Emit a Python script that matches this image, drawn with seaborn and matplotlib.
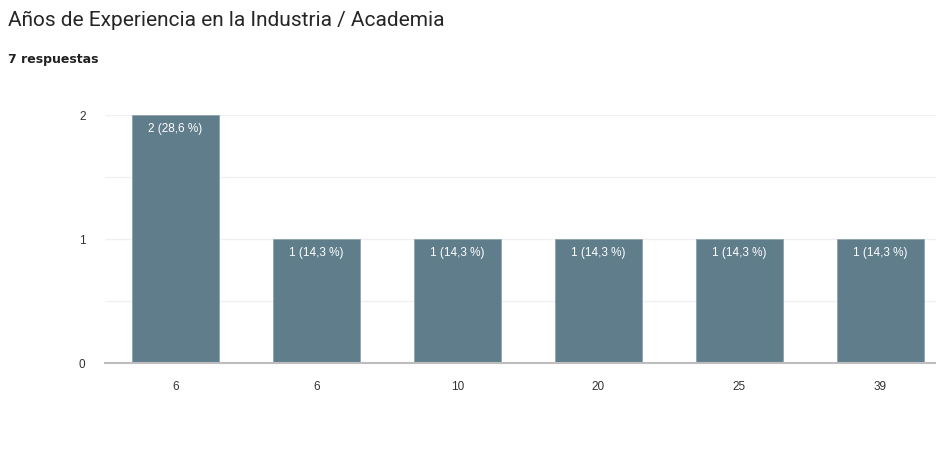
import matplotlib
matplotlib.use("Agg")
import matplotlib.pyplot as plt
import seaborn as sns
import pandas as pd

categories = ["6", "6", "10", "20", "25", "39"]
counts = [2, 1, 1, 1, 1, 1]
bar_labels = ["2 (28,6 %)", "1 (14,3 %)", "1 (14,3 %)", "1 (14,3 %)", "1 (14,3 %)", "1 (14,3 %)"]
yticks = [0, 1, 2]

sns.set_theme(style="white")
plt.rcParams['font.family'] = ['Liberation Sans', 'DejaVu Sans']

df = pd.DataFrame({"pos": list(range(len(categories))), "count": counts})

fig = plt.figure(figsize=(9.37, 4.64), dpi=100)
ax = fig.add_axes([105/937, 100/464, 846/937, 248/464])

sns.barplot(data=df, x="pos", y="count", color="#607D8B", saturation=1,
            width=0.617, edgecolor="#8FA3AD", linewidth=0.6, ax=ax, zorder=3)

ax.set_ylim(0, 2)
ax.set_xlim(-0.5, len(categories) - 0.5)
ax.set_yticks(yticks)
ax.set_yticklabels([str(t) for t in yticks], fontsize=8.5, color="#333333")
ax.set_xticks(range(len(categories)))
ax.set_xticklabels(categories, fontsize=8.5, color="#333333")
ax.tick_params(axis="y", length=0, pad=14)
ax.tick_params(axis="x", length=0, pad=12)
ax.set_xlabel("")
ax.set_ylabel("")

for v in [0.5, 1.0, 1.5, 2.0]:
    ax.axhline(v, color="#F0F0F0", linewidth=1, zorder=1)

for s in ["top", "right", "left"]:
    ax.spines[s].set_visible(False)
ax.spines["bottom"].set_color("#BDBDBD")
ax.spines["bottom"].set_linewidth(1.5)
ax.spines["bottom"].set_zorder(4)

for p, lab in zip(ax.patches, bar_labels):
    x = p.get_x() + p.get_width() / 2
    ax.annotate(lab, (x, p.get_height()), xytext=(0, -5), textcoords="offset points",
                ha="center", va="top", color="white", fontsize=8.5, zorder=5)

fig.text(8/937, 1 - 20/464, "Años de Experiencia en la Industria / Academia",
         fontsize=15, color="#262626", va="center", ha="left", family=["Roboto", "DejaVu Sans"])
fig.text(8/937, 1 - 59/464, "7 respuestas", fontsize=9, color="#212121",
         va="center", ha="left", fontweight="bold", family=["DejaVu Sans"])

fig.savefig("out.png", dpi=100)
